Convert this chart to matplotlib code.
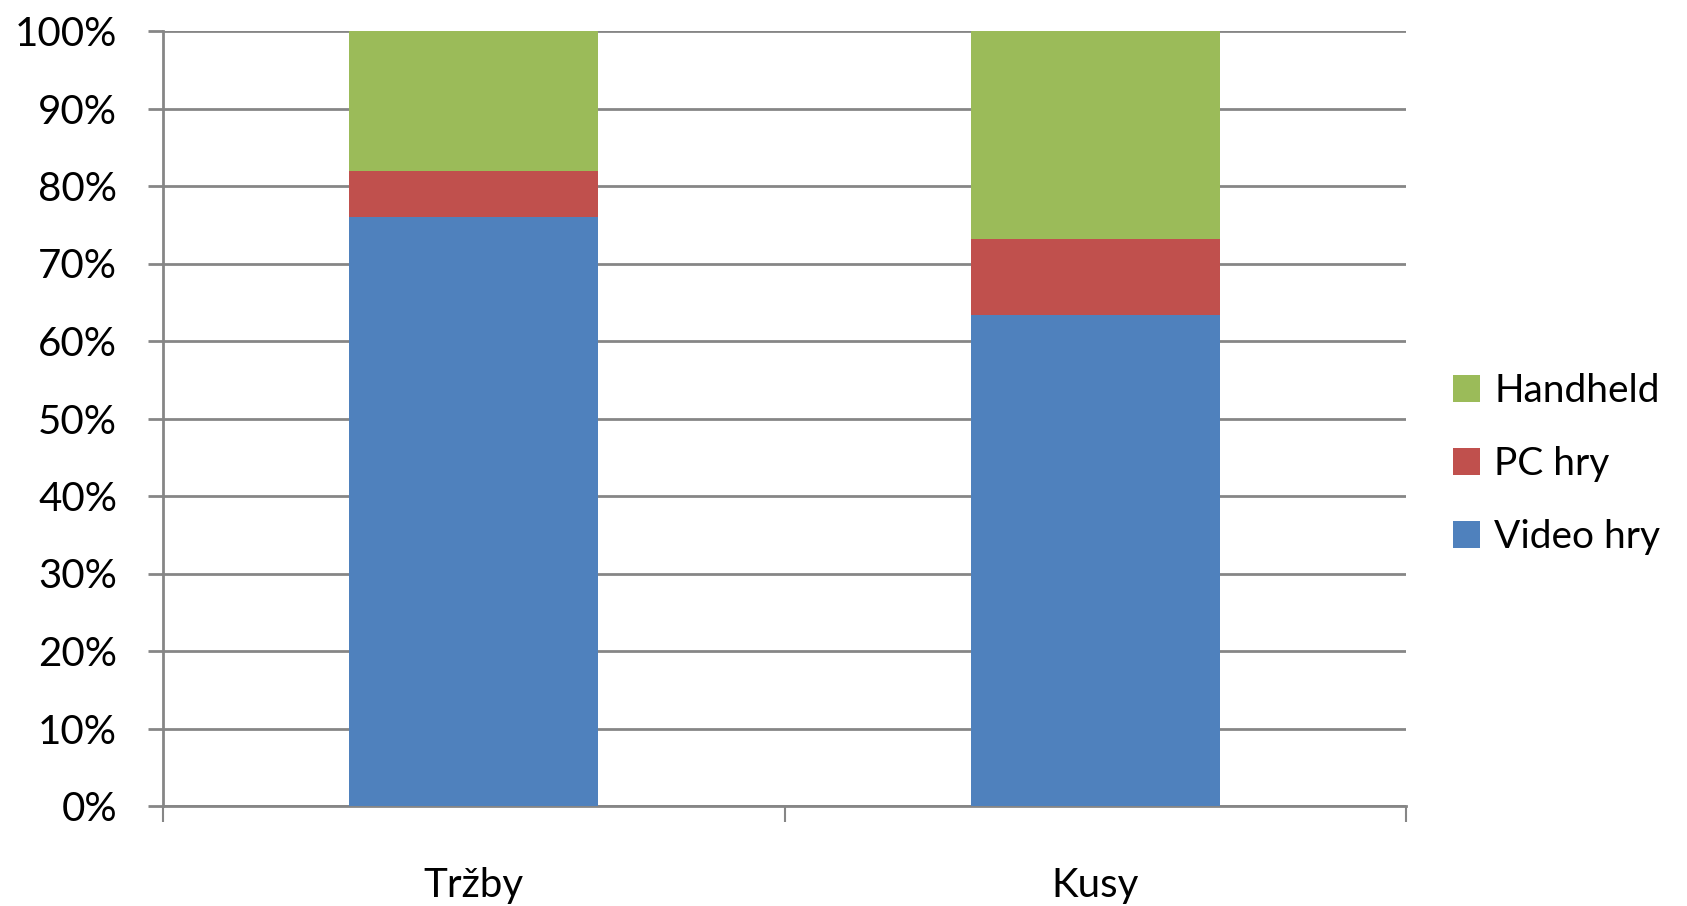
import matplotlib

matplotlib.use("Agg")

import matplotlib.pyplot as plt
from matplotlib.ticker import FixedLocator, PercentFormatter
import numpy as np

categories = ["Tržby", "Kusy"]
series_names = ["Video hry", "PC hry", "Handheld"]
video_hry = [76.0, 63.4]
pc_hry = [6.0, 9.8]
handheld = [18.0, 26.8]
colors = ["#4F81BD", "#C0504D", "#9BBB59"]

plt.rcParams["font.family"] = ["Lato", "DejaVu Sans"]

W, H, DPI = 1687, 906, 100
fig = plt.figure(figsize=(W / DPI, H / DPI), dpi=DPI)
ax = fig.add_axes([163 / W, 1 - 806 / H, (1406 - 163) / W, (806 - 31) / H])

x = np.arange(len(categories))
bottom = np.zeros(len(categories))
handles = []
for name, vals, col in zip(series_names, [video_hry, pc_hry, handheld], colors):
    b = ax.bar(x, vals, bottom=bottom, width=0.4, color=col, label=name, zorder=3)
    handles.append(b)
    bottom += np.array(vals)

ax.set_xlim(-0.5, len(categories) - 0.5)
ax.set_ylim(0, 100)
ax.set_yticks(np.arange(0, 101, 10))
ax.yaxis.set_major_formatter(PercentFormatter(decimals=0))
ax.grid(True, axis="y", color="#868686", linewidth=2, zorder=0)
ax.set_axisbelow(True)

# category boundaries get the tick marks, names sit on the centres
ax.xaxis.set_major_locator(FixedLocator([-0.5, 0.5, 1.5]))
ax.xaxis.set_minor_locator(FixedLocator(x))
ax.set_xticklabels([], minor=False)
ax.set_xticklabels(categories, minor=True)
ax.tick_params(axis="x", which="major", length=11.5, width=1.5, color="#868686")
ax.tick_params(axis="x", which="minor", length=0, pad=44, labelsize=29)
ax.tick_params(axis="y", length=11, width=2, color="#868686", labelsize=29, pad=22)

for side in ["top", "right"]:
    ax.spines[side].set_visible(False)
for side in ["left", "bottom"]:
    ax.spines[side].set_color("#868686")
    ax.spines[side].set_linewidth(2)

fig.legend(
    handles[::-1],
    series_names[::-1],
    loc="center left",
    bbox_to_anchor=(1418 / W, 1 - 464 / H),
    frameon=False,
    fontsize=28,
    handlelength=0.7,
    handleheight=0.7,
    handletextpad=0.36,
    labelspacing=0.95,
)

fig.savefig("out.png", dpi=DPI, facecolor="white")
